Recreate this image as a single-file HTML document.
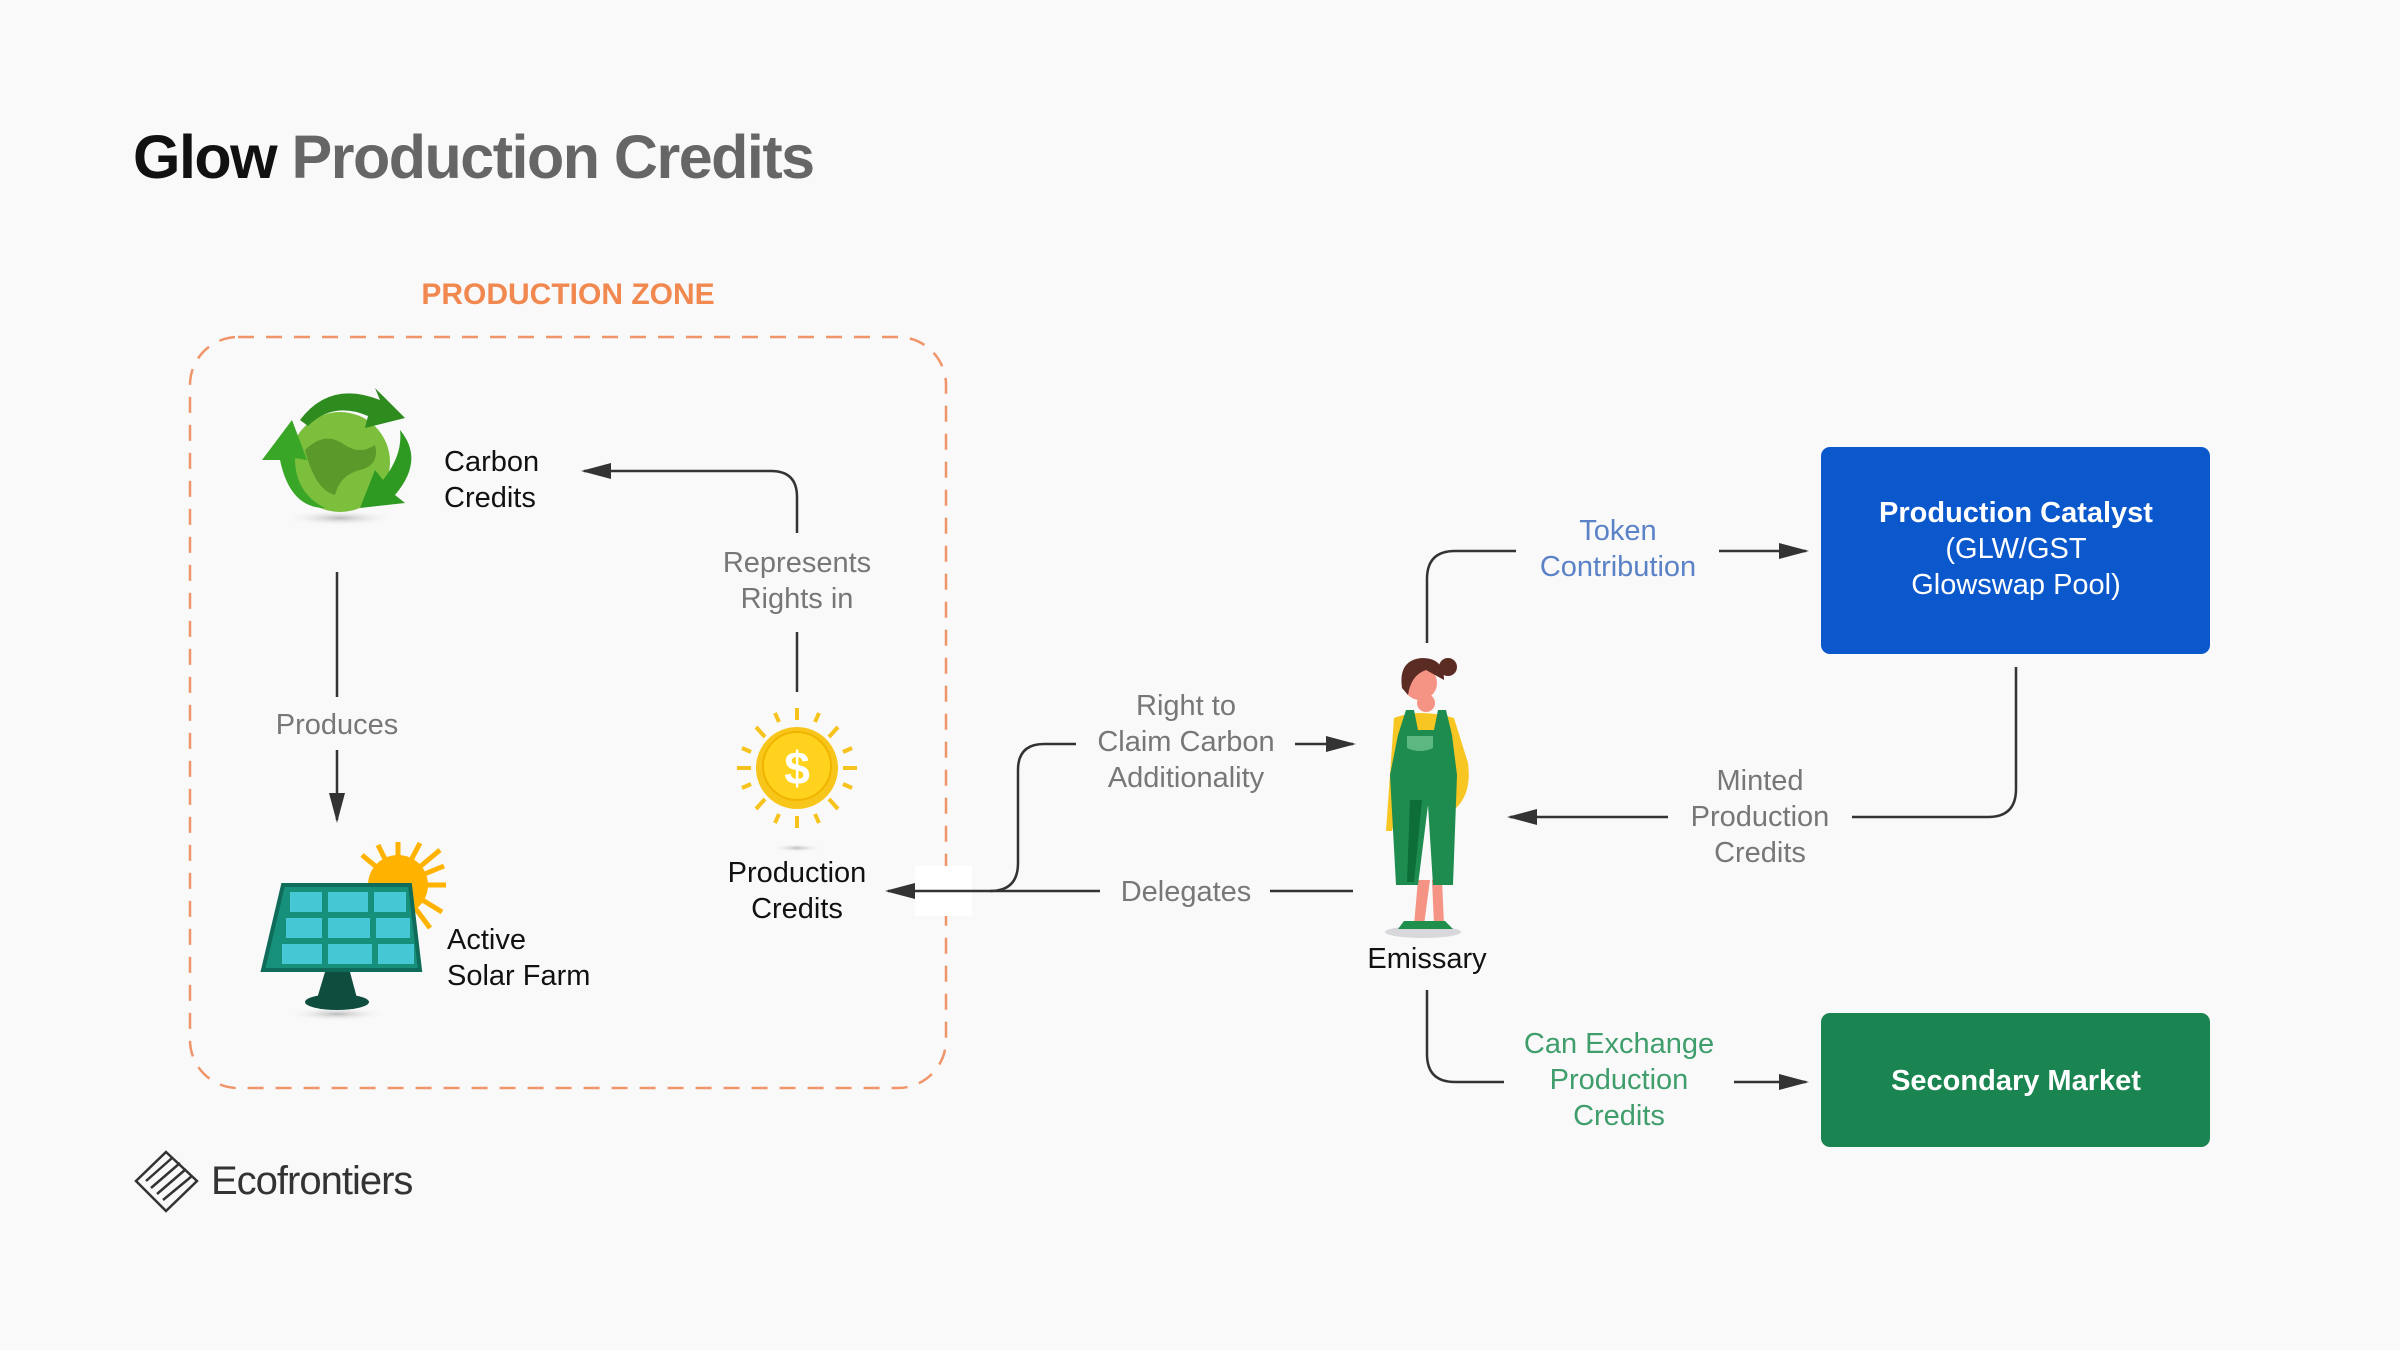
<!DOCTYPE html>
<html><head><meta charset="utf-8"><style>
html,body{margin:0;padding:0;background:#f9f9f9;}
svg{display:block;}
text{font-family:"Liberation Sans",sans-serif;}
</style></head><body>
<svg width="2400" height="1350" viewBox="0 0 2400 1350" xmlns="http://www.w3.org/2000/svg">
<defs>
<marker id="a" viewBox="0 0 10 10" refX="9" refY="5" markerWidth="30" markerHeight="16" markerUnits="userSpaceOnUse" orient="auto-start-reverse" preserveAspectRatio="none"><path d="M0,0 L10,5 L0,10 z" fill="#333"/></marker>
<radialGradient id="sh"><stop offset="0" stop-color="#bbb"/><stop offset="1" stop-color="#f9f9f9" stop-opacity="0"/></radialGradient>
</defs>
<rect width="2400" height="1350" fill="#f9f9f9"/>

<text x="133" y="178" font-size="61" font-weight="bold" letter-spacing="-1.5"><tspan fill="#111">Glow</tspan><tspan fill="#666"> Production Credits</tspan></text>

<text x="568" y="304" font-size="30" font-weight="bold" fill="#f0884f" text-anchor="middle">PRODUCTION ZONE</text>
<rect x="190" y="337" width="756" height="751" rx="48" fill="none" stroke="#f0946a" stroke-width="2.5" stroke-dasharray="16,12"/>

<!-- globe icon -->
<ellipse cx="340" cy="518" rx="55" ry="8" fill="url(#sh)"/>
<circle cx="340" cy="462" r="50" fill="#7cbf3c"/>
<path d="M305,450 q20,-20 40,-5 q15,10 30,0 q5,20 -15,25 q-20,5 -25,25 q-20,-5 -30,-45z" fill="#5a9a2a"/>
<path d="M300,420 q30,-40 80,-20 l-5,-12 l30,30 l-40,10 l3,-12 q-35,-15 -60,10z" fill="#2e8b1e"/>
<path d="M262,460 l30,-40 l15,40 l-12,-2 q0,35 30,50 q-35,0 -45,-48z" fill="#3aa628"/>
<path d="M400,430 q25,30 -5,65 l10,8 l-45,5 l15,-38 l8,10 q20,-25 17,-50z" fill="#2e9a22"/>

<text x="444" y="471" font-size="29" fill="#111">Carbon</text>
<text x="444" y="507" font-size="29" fill="#111">Credits</text>

<line x1="337" y1="572" x2="337" y2="697" stroke="#333" stroke-width="2.5"/>
<text x="337" y="734" font-size="29" fill="#777" text-anchor="middle">Produces</text>
<line x1="337" y1="750" x2="337" y2="820" stroke="#333" stroke-width="2.5" marker-end="url(#a)"/>

<!-- solar -->
<g stroke="#ffb300" stroke-width="5">
<line x1="398" y1="885" x2="398" y2="842"/><line x1="398" y1="885" x2="446" y2="885"/><line x1="398" y1="885" x2="440" y2="850"/><line x1="398" y1="885" x2="362" y2="855"/><line x1="398" y1="885" x2="442" y2="912"/><line x1="398" y1="885" x2="420" y2="843"/><line x1="398" y1="885" x2="444" y2="866"/><line x1="398" y1="885" x2="378" y2="845"/><line x1="398" y1="885" x2="430" y2="928"/>
</g>
<circle cx="398" cy="885" r="30" fill="#ffb300"/>
<ellipse cx="337" cy="1014" rx="50" ry="7" fill="url(#sh)"/>
<path d="M325,972 h25 l8,30 h-42z" fill="#0f4d3f"/>
<ellipse cx="337" cy="1002" rx="32" ry="8" fill="#0f4d3f"/>
<path d="M283,885 h127 l10,85 h-157z" fill="#16907a" stroke="#0f6b5a" stroke-width="4"/>
<g fill="#46c8d4"><rect x="290" y="892" width="32" height="20"/><rect x="328" y="892" width="40" height="20"/><rect x="374" y="892" width="32" height="20"/><rect x="286" y="918" width="36" height="20"/><rect x="328" y="918" width="42" height="20"/><rect x="376" y="918" width="34" height="20"/><rect x="282" y="944" width="40" height="20"/><rect x="328" y="944" width="44" height="20"/><rect x="378" y="944" width="36" height="20"/></g>

<text x="447" y="949" font-size="29" fill="#111">Active</text>
<text x="447" y="985" font-size="29" fill="#111">Solar Farm</text>

<path d="M797,533 V497 Q797,471 771,471 H584" fill="none" stroke="#333" stroke-width="2.5" marker-end="url(#a)"/>
<text x="797" y="572" font-size="29" fill="#777" text-anchor="middle">Represents</text>
<text x="797" y="608" font-size="29" fill="#777" text-anchor="middle">Rights in</text>
<line x1="797" y1="632" x2="797" y2="692" stroke="#333" stroke-width="2.5"/>

<g stroke="#f6c21c" stroke-width="4">
<line x1="797" y1="708" x2="797" y2="720"/><line x1="797" y1="816" x2="797" y2="828"/><line x1="737" y1="768" x2="751" y2="768"/><line x1="843" y1="768" x2="857" y2="768"/>
<line x1="756" y1="727" x2="765" y2="737"/><line x1="829" y1="737" x2="838" y2="727"/><line x1="756" y1="809" x2="765" y2="799"/><line x1="829" y1="799" x2="838" y2="809"/>
<line x1="775" y1="713" x2="779" y2="722"/><line x1="815" y1="722" x2="819" y2="713"/><line x1="742" y1="748" x2="751" y2="752"/><line x1="843" y1="752" x2="852" y2="748"/><line x1="742" y1="788" x2="751" y2="784"/><line x1="843" y1="784" x2="852" y2="788"/><line x1="775" y1="823" x2="779" y2="814"/><line x1="815" y1="814" x2="819" y2="823"/>
</g>
<ellipse cx="797" cy="848" rx="25" ry="4" fill="url(#sh)"/>
<circle cx="797" cy="768" r="41" fill="#f8c61a"/>
<circle cx="797" cy="766" r="34" fill="#ffd21e" stroke="#f0b400" stroke-width="2"/>
<text x="797" y="784" font-size="46" font-weight="bold" fill="#fff" text-anchor="middle">$</text>

<text x="797" y="882" font-size="29" fill="#111" text-anchor="middle">Production</text>
<text x="797" y="918" font-size="29" fill="#111" text-anchor="middle">Credits</text>

<rect x="915" y="866" width="57" height="50" fill="#fff"/>

<path d="M1353,891 H1270" stroke="#333" stroke-width="2.5"/>
<text x="1186" y="901" font-size="29" fill="#777" text-anchor="middle">Delegates</text>
<path d="M1100,891 H888" stroke="#333" stroke-width="2.5" marker-end="url(#a)"/>
<path d="M990,891 Q1018,891 1018,863 V770 Q1018,744 1044,744 H1076" fill="none" stroke="#333" stroke-width="2.5"/>
<text x="1186" y="715" font-size="29" fill="#777" text-anchor="middle">Right to</text>
<text x="1186" y="751" font-size="29" fill="#777" text-anchor="middle">Claim Carbon</text>
<text x="1186" y="787" font-size="29" fill="#777" text-anchor="middle">Additionality</text>
<line x1="1295" y1="744" x2="1353" y2="744" stroke="#333" stroke-width="2.5" marker-end="url(#a)"/>

<!-- emissary figure -->
<ellipse cx="1423" cy="932" rx="38" ry="6" fill="#d8d8dc"/>
<path d="M1418,880 l-4,45 h10 l6,-45z" fill="#f59484"/>
<path d="M1432,880 l2,45 h10 l-2,-45z" fill="#f59484"/>
<path d="M1404,921 h24 v8 h-30z M1425,921 h20 l8,8 h-28z" fill="#1f8f4c"/>
<path d="M1394,718 q25,-10 60,0 l14,45 q4,30 -12,45 l-8,-10 l-50,5 l-6,28 h-6 z" fill="#f7c623"/>
<circle cx="1426" cy="703" r="9" fill="#f59484"/>
<path d="M1398,735 l8,-25 h8 l4,20 h16 l4,-20 h8 l6,25 l5,40 l-4,110 h-20 l-5,-80 l-10,80 h-22 l-6,-110z" fill="#1e8c4e"/>
<path d="M1410,800 l12,0 l-8,82 h-7z" fill="#0d6e38"/>
<path d="M1407,736 h26 v12 q-13,6 -26,0z" fill="#5cb87f"/>
<circle cx="1420" cy="683" r="17" fill="#f59484"/>
<path d="M1402,688 q-4,-28 20,-30 q22,0 22,22 l-18,-10 q-15,5 -18,25z" fill="#5a2c24"/>
<circle cx="1448" cy="667" r="9" fill="#5a2c24"/>
<text x="1427" y="968" font-size="29" fill="#111" text-anchor="middle">Emissary</text>

<path d="M1427,643 V579 Q1427,551 1455,551 H1516" fill="none" stroke="#333" stroke-width="2.5"/>
<text x="1618" y="540" font-size="29" fill="#5b82c7" text-anchor="middle">Token</text>
<text x="1618" y="576" font-size="29" fill="#5b82c7" text-anchor="middle">Contribution</text>
<line x1="1719" y1="551" x2="1806" y2="551" stroke="#333" stroke-width="2.5" marker-end="url(#a)"/>

<rect x="1821" y="447" width="389" height="207" rx="9" fill="#0b57cc"/>
<text x="2016" y="522" font-size="29" font-weight="bold" fill="#fff" text-anchor="middle">Production Catalyst</text>
<text x="2016" y="558" font-size="29" fill="#fff" text-anchor="middle">(GLW/GST</text>
<text x="2016" y="594" font-size="29" fill="#fff" text-anchor="middle">Glowswap Pool)</text>

<path d="M2016,667 V789 Q2016,817 1988,817 H1852" fill="none" stroke="#333" stroke-width="2.5"/>
<text x="1760" y="790" font-size="29" fill="#777" text-anchor="middle">Minted</text>
<text x="1760" y="826" font-size="29" fill="#777" text-anchor="middle">Production</text>
<text x="1760" y="862" font-size="29" fill="#777" text-anchor="middle">Credits</text>
<line x1="1668" y1="817" x2="1510" y2="817" stroke="#333" stroke-width="2.5" marker-end="url(#a)"/>

<path d="M1427,990 V1054 Q1427,1082 1455,1082 H1504" fill="none" stroke="#333" stroke-width="2.5"/>
<text x="1619" y="1053" font-size="29" fill="#3f9e6c" text-anchor="middle">Can Exchange</text>
<text x="1619" y="1089" font-size="29" fill="#3f9e6c" text-anchor="middle">Production</text>
<text x="1619" y="1125" font-size="29" fill="#3f9e6c" text-anchor="middle">Credits</text>
<line x1="1734" y1="1082" x2="1806" y2="1082" stroke="#333" stroke-width="2.5" marker-end="url(#a)"/>

<rect x="1821" y="1013" width="389" height="134" rx="9" fill="#1a8551"/>
<text x="2016" y="1090" font-size="29" font-weight="bold" fill="#fff" text-anchor="middle">Secondary Market</text>

<g fill="none" stroke="#333" stroke-width="2.5">
<path d="M166,1152 L197,1181 L166,1211 L136,1181 Z"/>
<path d="M146,1181 L172,1158 M151,1188 L180,1163 M157,1194 L186,1169 M163,1200 L192,1176"/>
</g>
<text x="211" y="1194" font-size="40" fill="#333" letter-spacing="-1">Ecofrontiers</text>
</svg>
</body></html>
